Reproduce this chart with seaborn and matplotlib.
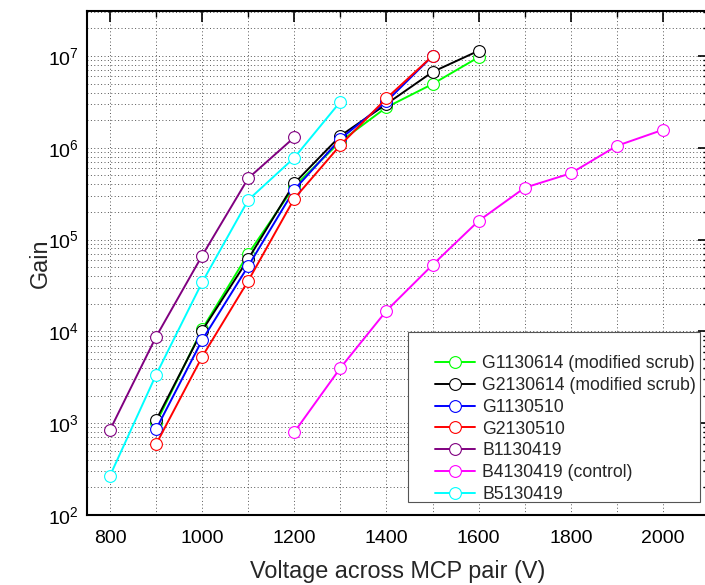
import numpy as np
import pandas as pd
import seaborn as sns
import matplotlib.pyplot as plt
from matplotlib.patches import Rectangle
from matplotlib.ticker import LogLocator, MultipleLocator, NullFormatter

# Data
v_g1130614 = [900, 1000, 1100, 1200, 1300, 1400, 1500, 1600]
g_g1130614 = [1.0e3, 1.06e4, 7.0e4, 3.8e5, 1.17e6, 2.76e6, 4.95e6, 9.7e6]

v_g2130614 = [900, 1000, 1100, 1200, 1300, 1400, 1500, 1600]
g_g2130614 = [1.08e3, 1.02e4, 6.15e4, 4.1e5, 1.35e6, 3.0e6, 6.7e6, 1.14e7]

v_g1130510 = [900, 1000, 1100, 1200, 1300, 1400, 1500]
g_g1130510 = [860, 8.05e3, 5.15e4, 3.5e5, 1.25e6, 3.2e6, 1.0e7]

v_g2130510 = [900, 1000, 1100, 1200, 1300, 1400, 1500]
g_g2130510 = [590, 5.3e3, 3.56e4, 2.8e5, 1.07e6, 3.46e6, 1.0e7]

v_b1130419 = [800, 900, 1000, 1100, 1200]
g_b1130419 = [845, 8.75e3, 6.7e4, 4.66e5, 1.3e6]

v_b4130419 = [1200, 1300, 1400, 1500, 1600, 1700, 1800, 1900, 2000]
g_b4130419 = [800, 4.0e3, 1.68e4, 5.3e4, 1.6e5, 3.67e5, 5.27e5, 1.05e6, 1.57e6]

v_b5130419 = [800, 900, 1000, 1100, 1200, 1300]
g_b5130419 = [268, 3.37e3, 3.43e4, 2.7e5, 7.8e5, 3.18e6]

names = ["G1130614 (modified scrub)", "G2130614 (modified scrub)", "G1130510",
         "G2130510", "B1130419", "B4130419 (control)", "B5130419"]
colors = ["#00ff00", "#000000", "#0000ff", "#ff0000", "#800080", "#ff00ff", "#00ffff"]
volts = [v_g1130614, v_g2130614, v_g1130510, v_g2130510, v_b1130419, v_b4130419, v_b5130419]
gains = [g_g1130614, g_g2130614, g_g1130510, g_g2130510, g_b1130419, g_b4130419, g_b5130419]

sns.set_style("white")
plt.rcParams['font.family'] = ['Liberation Sans', 'DejaVu Sans']
plt.rcParams['mathtext.fontset'] = 'custom'
plt.rcParams['mathtext.rm'] = 'Liberation Sans'
plt.rcParams['mathtext.it'] = 'Liberation Sans:italic'
plt.rcParams['mathtext.bf'] = 'Liberation Sans:bold'

fig = plt.figure(figsize=(7.05, 5.85), dpi=100)
ax = fig.add_axes([0.1234, 0.1197, 0.8823, 0.8615])

for name, c, v, g in zip(names, colors, volts, gains):
    df = pd.DataFrame({'V': v, 'gain': g})
    sns.lineplot(data=df, x='V', y='gain', ax=ax, color=c, lw=1.4,
                 marker='o', markersize=8.5, markerfacecolor='white',
                 markeredgecolor=c, markeredgewidth=0.8, label=name)

ax.set_yscale('log')
ax.set_xlim(750, 2100)
ax.set_ylim(1e2, 10 ** 7.49)

ax.xaxis.set_major_locator(MultipleLocator(200))
ax.xaxis.set_minor_locator(MultipleLocator(100))
ax.yaxis.set_major_locator(LogLocator(base=10))
ax.yaxis.set_minor_locator(LogLocator(base=10, subs=np.arange(2, 10)))
ax.yaxis.set_minor_formatter(NullFormatter())

ax.grid(True, which='both', linestyle=(0, (1, 2.5)), color='#555555', lw=0.7)
ax.tick_params(which='both', direction='in', top=True, right=True, colors='black')
ax.tick_params(which='major', length=8, width=1.2, labelsize=14)
ax.tick_params(axis='x', which='major', pad=11)
ax.tick_params(axis='y', which='major', pad=6)
ax.tick_params(which='minor', length=4, width=1.0)
for s in ax.spines.values():
    s.set_color('black')
    s.set_linewidth(1.5)

ax.set_xlabel('Voltage across MCP pair (V)', fontsize=16.8, labelpad=9)
ax.set_ylabel('Gain', fontsize=16.8, labelpad=-3)

# legend box drawn separately (reference box has extra room at top/left)
ax.add_patch(Rectangle((0.516, 0.0258), 0.4695, 0.3372, transform=ax.transAxes,
                       facecolor='white', edgecolor='#555555', lw=0.8, zorder=4.5))
leg = ax.legend(loc='upper left', bbox_to_anchor=(0.5595, 0.317), frameon=False,
                fontsize=12.7, handlelength=2.27, handletextpad=0.4,
                labelspacing=0.27, borderpad=0, borderaxespad=0)
leg.set_zorder(5)

fig.savefig('out.png', dpi=100)
